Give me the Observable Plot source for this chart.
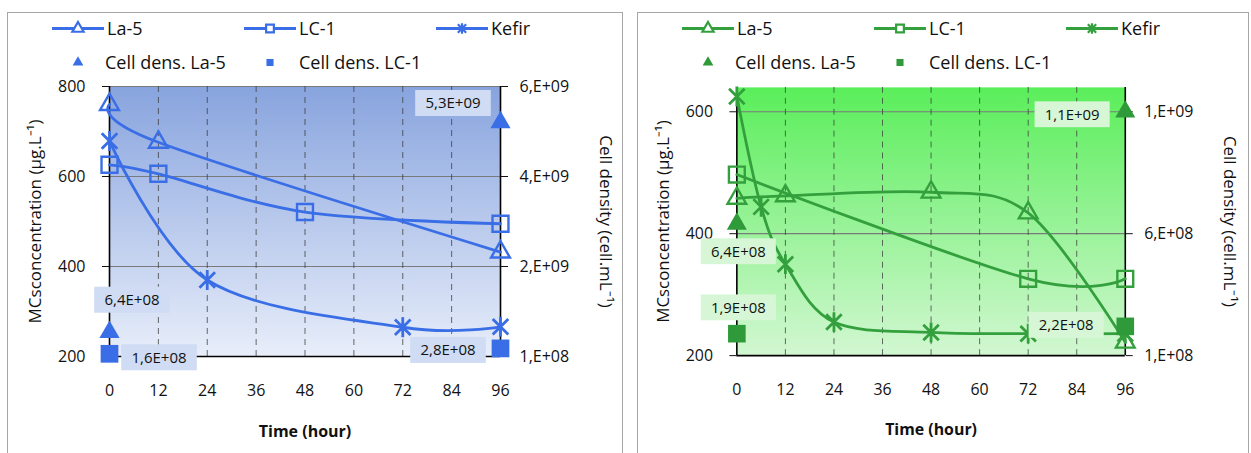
<!DOCTYPE html>
<html>
<head>
<meta charset="utf-8">
<script src="https://cdn.jsdelivr.net/npm/d3@7"></script>
<script src="https://cdn.jsdelivr.net/npm/@observablehq/plot@0.6"></script>
<style>
  html, body { margin: 0; padding: 0; background: #fff; }
  #wrap { position: relative; width: 1251px; height: 453px; overflow: hidden; font-family: "Open Sans", sans-serif; }
  .panel { position: absolute; top: 12px; height: 460px; border: 1.5px solid #a6a6a6; box-sizing: border-box; background: #fff; }
  .chart { position: absolute; }
  .legend { position: absolute; left: 0; top: 0; }
</style>
</head>
<body>
<div id="wrap"></div>
<script>
// ---------- shared ----------
const hours = [0, 12, 24, 36, 48, 60, 72, 84, 96];
const seriesNames = ["La-5", "LC-1", "Kefir"];
const cellNames = ["Cell dens. La-5", "Cell dens. LC-1"];
const xTitle = "Time (hour)";
const yTitle = "MCsconcentration (µg.L⁻¹)";
const y2Title = "Cell density (cell.mL⁻¹)";

// ---------- left (blue) panel ----------
const blueLa5Time = [0, 12, 96];
const blueLa5MC = [760, 676, 432];
const blueLC1Time = [0, 12, 48, 96];
const blueLC1MC = [626, 606, 521, 495];
const blueKefirTime = [0, 24, 72, 96];
const blueKefirMC = [679, 370, 265, 266];
const blueCellTime = [0, 96];
const blueCellLa5 = [6.4e8, 5.3e9];
const blueCellLC1 = [1.6e8, 2.8e8];
const blueMCTicks = [200, 400, 600, 800];
const blueCellTicks = [1e8, 2.1e9, 4.1e9, 6.1e9];

// ---------- right (green) panel ----------
const greenLa5Time = [0, 12, 48, 72, 96];
const greenLa5MC = [458, 462, 468, 434, 222];
const greenLC1Time = [0, 72, 96];
const greenLC1MC = [497, 326, 326];
const greenKefirTime = [0, 6, 12, 24, 48, 72, 96];
const greenKefirMC = [625, 444, 350, 255, 238, 236, 236];
const greenCellTime = [0, 96];
const greenCellLa5 = [6.4e8, 1.1e9];
const greenCellLC1 = [1.9e8, 2.2e8];
const greenMCTicks = [200, 400, 600];
const greenCellTicks = [1e8, 6e8, 1.1e9];

// ---------- helpers ----------
function rows(ts, vs) { return ts.map((t, i) => ({t, v: vs[i]})); }
function sci(v, digits) {
  const e = Math.floor(Math.log10(v) + 1e-9);
  const m = v / Math.pow(10, e);
  const ms = digits === 0 ? String(Math.round(m)) : m.toFixed(digits).replace(".", ",");
  return ms + (digits === 0 ? "," : "") + "E+" + String(e).padStart(2, "0");
}

// Excel-like "star" marker: an X with a vertical bar
const starSymbol = {
  draw(context, size) {
    const r = Math.sqrt(size / Math.PI);
    const k = r * 0.78;
    context.moveTo(-k, -k); context.lineTo(k, k);
    context.moveTo(-k, k); context.lineTo(k, -k);
    context.moveTo(0, -r); context.lineTo(0, r);
  }
};

function gradientDefs(id, top, bottom) {
  return () => {
    const defs = d3.create("svg:defs");
    const g = defs.append("linearGradient").attr("id", id)
      .attr("x1", 0).attr("y1", 0).attr("x2", 0).attr("y2", 1);
    g.append("stop").attr("offset", "0%").attr("stop-color", top);
    g.append("stop").attr("offset", "100%").attr("stop-color", bottom);
    return defs.node();
  };
}

function dataLabels(items, boxFill) {
  return (index, scales) => {
    const g = d3.create("svg:g");
    for (const p of items) {
      const cx = scales.x(p.t) + p.dx, cy = scales.y(p.y) + p.dy;
      const w = p.text.length * 8.8 + 14, h = 26;
      g.append("rect").attr("x", cx - w / 2).attr("y", cy - h / 2)
        .attr("width", w).attr("height", h).attr("fill", boxFill);
      g.append("text").attr("x", cx).attr("y", cy)
        .attr("text-anchor", "middle").attr("dy", "0.36em")
        .attr("font-size", 15).attr("fill", "#111").text(p.text);
    }
    return g.node();
  };
}

function buildPanel(cfg) {
  const panel = document.createElement("div");
  panel.className = "panel";
  panel.style.left = cfg.panelLeft + "px";
  panel.style.width = cfg.panelWidth + "px";
  document.getElementById("wrap").appendChild(panel);

  const [p0] = cfg.yDomain;
  const c0 = cfg.cellTicks[0], c1 = cfg.cellTicks[1];
  const pp0 = cfg.mcTicks[0], pp1 = cfg.mcTicks[1];
  const toY = c => pp0 + (c - c0) / (c1 - c0) * (pp1 - pp0);
  const toCell = y => c0 + (y - pp0) / (pp1 - pp0) * (c1 - c0);

  const la5 = rows(cfg.la5Time, cfg.la5MC);
  const lc1 = rows(cfg.lc1Time, cfg.lc1MC);
  const kef = rows(cfg.kefTime, cfg.kefMC);
  const cLa5 = cfg.cellTime.map((t, i) => ({t, v: toY(cfg.cellLa5[i]), c: cfg.cellLa5[i]}));
  const cLc1 = cfg.cellTime.map((t, i) => ({t, v: toY(cfg.cellLC1[i]), c: cfg.cellLC1[i]}));

  const labelItems = [
    ...cLa5.map((d, i) => ({t: d.t, y: d.v, text: sci(d.c, 1), dx: cfg.offLa5[i][0], dy: cfg.offLa5[i][1]})),
    ...cLc1.map((d, i) => ({t: d.t, y: d.v, text: sci(d.c, 1), dx: cfg.offLc1[i][0], dy: cfg.offLc1[i][1]}))
  ];

  const col = cfg.color;
  const chart = Plot.plot({
    width: 614, height: 370,
    marginLeft: 101, marginRight: 122, marginTop: 16, marginBottom: 84,
    x: {domain: [0, 96]},
    y: {domain: cfg.yDomain},
    style: {fontFamily: "Open Sans, sans-serif", fontSize: "16px", color: "#111", background: "transparent", overflow: "visible"},
    marks: [
      gradientDefs(cfg.gradId, cfg.gradTop, cfg.gradBottom),
      Plot.frame({fill: `url(#${cfg.gradId})`, stroke: null}),
      Plot.gridY(cfg.grid, {stroke: "#7a7a7a", strokeOpacity: 1, strokeWidth: 1.2}),
      Plot.gridX(hours.slice(1, -1), {stroke: "#3a3a3a", strokeOpacity: 0.75, strokeDasharray: "6,5"}),
      Plot.ruleX([0, 96], {stroke: "#000", strokeWidth: 1.6}),
      Plot.ruleY([p0], {stroke: "#000", strokeWidth: 1.6}),
      Plot.axisY({ticks: cfg.mcTicks, tickSize: 7, tickPadding: 17, label: null, fontSize: 16}),
      Plot.axisY({anchor: "right", ticks: cfg.cellTicks.map(toY), tickFormat: d => sci(toCell(d), 0),
                  tickSize: 7, tickPadding: 12, label: null, fontSize: 16}),
      Plot.axisX({ticks: hours, tickSize: 0, tickPadding: 28, label: null, fontSize: 16}),
      Plot.text([xTitle], {frameAnchor: "bottom", dy: 75, fontWeight: "bold", fontSize: 16, lineAnchor: "middle"}),
      Plot.text([yTitle], {frameAnchor: "left", dx: -74, rotate: -90, textAnchor: "middle", lineAnchor: "middle", fontSize: 17}),
      Plot.text([y2Title], {frameAnchor: "right", dx: 105, rotate: 90, textAnchor: "middle", lineAnchor: "middle", fontSize: 17}),
      Plot.line(la5, {x: "t", y: "v", curve: "cardinal", stroke: col, strokeWidth: 2.8}),
      Plot.line(lc1, {x: "t", y: "v", curve: "cardinal", stroke: col, strokeWidth: 2.8}),
      Plot.line(kef, {x: "t", y: "v", curve: "cardinal", stroke: col, strokeWidth: 2.8}),
      Plot.dot(la5, {x: "t", y: "v", symbol: "triangle", r: 7, stroke: col, fill: "none", strokeWidth: 2.4}),
      Plot.dot(lc1, {x: "t", y: "v", symbol: "square", r: 9, stroke: col, fill: "none", strokeWidth: 2.4}),
      Plot.dot(kef, {x: "t", y: "v", symbol: starSymbol, r: 10, stroke: col, fill: "none", strokeWidth: 2.8}),
      Plot.dot(cLa5, {x: "t", y: "v", symbol: "triangle", r: 7.5, fill: cfg.cellColor, stroke: null}),
      Plot.dot(cLc1, {x: "t", y: "v", symbol: "square", r: 10, fill: cfg.cellColor, stroke: null}),
      dataLabels(labelItems, cfg.boxFill)
    ]
  });
  chart.classList.add("chart");
  chart.style.left = (cfg.svgLeft - cfg.panelLeft - 1.5) + "px";
  chart.style.top = (cfg.svgTop - 12 - 1.5) + "px";
  panel.appendChild(chart);

  // legend
  const lg = d3.create("svg").attr("class", "legend").attr("width", cfg.panelWidth).attr("height", 75)
    .style("font-family", "Open Sans, sans-serif").style("font-size", "18px");
  const r1 = 15.5, r2 = 49.5;
  const row1 = [[44, d3.symbolTriangle, 55], [236, d3.symbolSquare, 60], [428, starSymbol, 90]];
  row1.forEach(([x, type, size], i) => {
    lg.append("line").attr("x1", x).attr("x2", x + 52).attr("y1", r1).attr("y2", r1)
      .attr("stroke", col).attr("stroke-width", 2.8);
    lg.append("path").attr("d", d3.symbol(type, size)())
      .attr("transform", `translate(${x + 26},${r1})`)
      .attr("fill", type === starSymbol ? "none" : "#fff").attr("stroke", col).attr("stroke-width", 2.2);
    lg.append("text").attr("x", x + 55).attr("y", r1).attr("dy", "0.36em").attr("fill", "#111").text(seriesNames[i]);
  });
  const row2 = [[70, d3.symbolTriangle, 97], [262, d3.symbolSquare, 291]];
  row2.forEach(([x, type, tx], i) => {
    lg.append("path").attr("d", d3.symbol(type, 50)()).attr("transform", `translate(${x},${r2})`).attr("fill", cfg.cellColor);
    lg.append("text").attr("x", tx).attr("y", r2).attr("dy", "0.36em").attr("fill", "#111").text(cellNames[i]);
  });
  panel.appendChild(lg.node());
}

buildPanel({
  panelLeft: 7, panelWidth: 616, svgLeft: 8, svgTop: 70,
  yDomain: [200, 800], mcTicks: blueMCTicks, cellTicks: blueCellTicks, grid: [400, 600, 800],
  la5Time: blueLa5Time, la5MC: blueLa5MC, lc1Time: blueLC1Time, lc1MC: blueLC1MC,
  kefTime: blueKefirTime, kefMC: blueKefirMC,
  cellTime: blueCellTime, cellLa5: blueCellLa5, cellLC1: blueCellLC1,
  offLa5: [[23, -32], [-47, -19]], offLc1: [[50, 4], [-52, 2]],
  color: "#3a6ee6", cellColor: "#3a6ee6",
  gradId: "gBlue", gradTop: "#88a4de", gradBottom: "#e8eefa", boxFill: "#cfdcf3"
});

buildPanel({
  panelLeft: 637, panelWidth: 612, svgLeft: 636, svgTop: 71,
  yDomain: [200, 640], mcTicks: greenMCTicks, cellTicks: greenCellTicks, grid: [400, 600],
  la5Time: greenLa5Time, la5MC: greenLa5MC, lc1Time: greenLC1Time, lc1MC: greenLC1MC,
  kefTime: greenKefirTime, kefMC: greenKefirMC,
  cellTime: greenCellTime, cellLa5: greenCellLa5, cellLC1: greenCellLC1,
  offLa5: [[2, 28], [-53, 3]], offLc1: [[2, -26], [-59, -1]],
  color: "#33a03d", cellColor: "#2e9a3a",
  gradId: "gGreen", gradTop: "#5aee5a", gradBottom: "#d2f7d2", boxFill: "#d6f6d6"
});
</script>
</body>
</html>
